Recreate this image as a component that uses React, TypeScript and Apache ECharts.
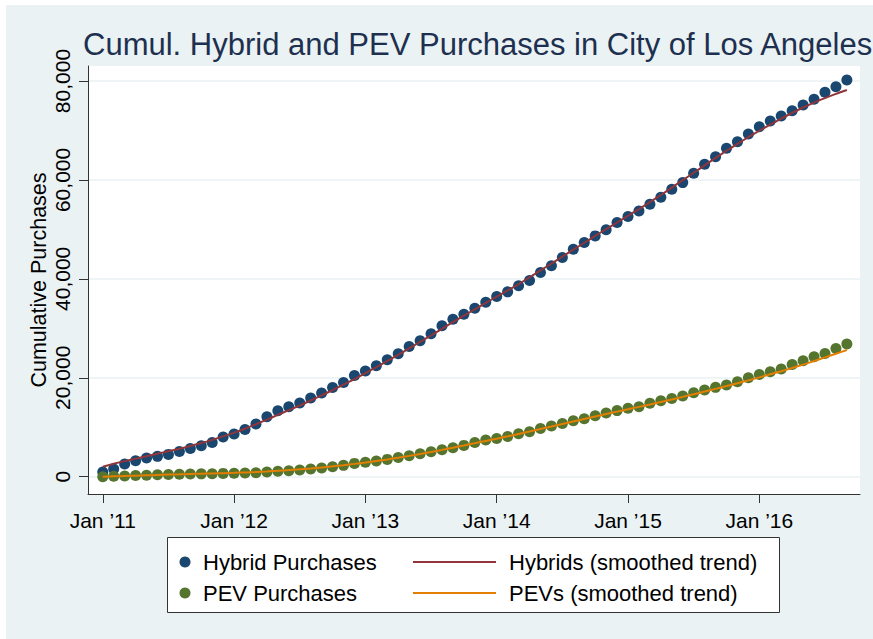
import React, { useEffect, useRef } from "react";
import * as echarts from "echarts";

// Monthly observations, Jan 2011 (index 0) through Sep 2016 (index 68)
const hybridPurchases = [
  950, 1550, 2560, 3230, 3770, 4110, 4510, 5110, 5720, 6260, 6930, 8020,
  8630, 9560, 10650, 12120, 13330, 14140, 14890, 15900, 16910, 18040, 19050, 20470,
  21350, 22420, 23640, 24850, 26330, 27470, 28890, 30500, 31850, 32860, 34070, 35290,
  36430, 37370, 38590, 39660, 41280, 42630, 44310, 45990, 47340, 48690, 49950, 51380,
  52590, 53740, 55090, 56500, 58120, 59460, 61350, 63170, 64710, 66400, 67740, 69290,
  70770, 71920, 72930, 74000, 75150, 76300, 77720, 78850, 80200,
];

const pevPurchases = [
  0, 100, 150, 220, 290, 380, 450, 500, 540, 570, 610, 670,
  700, 750, 810, 950, 1090, 1220, 1350, 1550, 1750, 2020, 2290, 2690,
  2920, 3160, 3500, 3900, 4240, 4640, 5050, 5450, 5860, 6330, 6930, 7400,
  7740, 8140, 8680, 9090, 9760, 10230, 10770, 11310, 11710, 12320, 12860, 13360,
  13820, 14140, 14830, 15360, 15830, 16300, 16970, 17510, 18060, 18520, 19190, 20000,
  20680, 21210, 21760, 22700, 23430, 24240, 24930, 25940, 26810,
];

const hybridTrend = [
  2000, 2600, 3150, 3650, 4150, 4650, 5150, 5650, 6200, 6800, 7450, 8150,
  8900, 9700, 10600, 11550, 12500, 13450, 14400, 15400, 16450, 17500, 18600, 19750,
  20950, 22150, 23400, 24650, 25950, 27250, 28550, 29900, 31250, 32550, 33850, 35150,
  36400, 37650, 38950, 40300, 41700, 43100, 44500, 45900, 47300, 48700, 50050, 51400,
  52750, 54100, 55500, 56950, 58450, 59950, 61450, 62950, 64450, 65900, 67300, 68650,
  69950, 71200, 72400, 73550, 74650, 75650, 76550, 77400, 78200,
];

const pevTrend = [
  0, 70, 140, 210, 280, 350, 420, 480, 540, 600, 660, 720,
  790, 870, 960, 1070, 1190, 1330, 1490, 1670, 1870, 2090, 2330, 2590,
  2870, 3170, 3490, 3840, 4210, 4600, 5000, 5420, 5860, 6310, 6770, 7230,
  7690, 8160, 8640, 9130, 9630, 10130, 10640, 11150, 11660, 12170, 12670, 13160,
  13640, 14120, 14610, 15110, 15620, 16140, 16670, 17210, 17760, 18320, 18890, 19480,
  20080, 20700, 21330, 21980, 22660, 23380, 24120, 24870, 25620,
];

const xTickMonths = [0, 12, 24, 36, 48, 60];
const xTickLabels = ["Jan \u201911", "Jan \u201912", "Jan \u201913", "Jan \u201914", "Jan \u201915", "Jan \u201916"];
const yTicks = [0, 20000, 40000, 60000, 80000];

const seriesNames = ["Hybrid Purchases", "PEV Purchases", "Hybrids (smoothed trend)", "PEVs (smoothed trend)"];

const FONT = "'Liberation Sans', Arial, Helvetica, sans-serif";
const NAVY = "#1A476F";
const GREEN = "#55752F";
const MAROON = "#90353B";
const ORANGE = "#E37E00";
const BG = "#EAF2F3";

const toPairs = (arr: number[]) => arr.map((v, i) => [i, v]);

export default function App() {
  const ref = useRef<HTMLDivElement>(null);

  useEffect(() => {
    if (!ref.current) return;
    const chart = echarts.init(ref.current, undefined, { renderer: "svg" });
    const legendRow1 = 562;
    const legendRow2 = 593;
    chart.setOption({
      animation: false,
      backgroundColor: "transparent",
      title: {
        text: "Cumul. Hybrid and PEV Purchases in City of Los Angeles",
        left: 78,
        top: 24,
        textStyle: { fontFamily: FONT, fontSize: 31, fontWeight: "normal", color: "#1e3050" },
      },
      graphic: [
        { type: "rect", z: -10, shape: { x: 6, y: 5, width: 873, height: 639 }, style: { fill: BG } },
        {
          type: "rect",
          shape: { x: 167.5, y: 537.5, width: 612, height: 75 },
          style: { fill: "#fff", stroke: "#333", lineWidth: 1 },
        },
        { type: "circle", shape: { cx: 185, cy: legendRow1, r: 5.5 }, style: { fill: NAVY } },
        { type: "circle", shape: { cx: 185, cy: legendRow2, r: 5.5 }, style: { fill: GREEN } },
        {
          type: "text",
          x: 203,
          y: legendRow1,
          style: { text: seriesNames[0], fontFamily: FONT, fontSize: 22, fill: "#000", verticalAlign: "middle" },
        },
        {
          type: "text",
          x: 203,
          y: legendRow2,
          style: { text: seriesNames[1], fontFamily: FONT, fontSize: 22, fill: "#000", verticalAlign: "middle" },
        },
        { type: "line", shape: { x1: 413, y1: legendRow1, x2: 496, y2: legendRow1 }, style: { stroke: MAROON, lineWidth: 2 } },
        { type: "line", shape: { x1: 413, y1: legendRow2, x2: 496, y2: legendRow2 }, style: { stroke: ORANGE, lineWidth: 2 } },
        {
          type: "text",
          x: 509,
          y: legendRow1,
          style: { text: seriesNames[2], fontFamily: FONT, fontSize: 22, fill: "#000", verticalAlign: "middle" },
        },
        {
          type: "text",
          x: 509,
          y: legendRow2,
          style: { text: seriesNames[3], fontFamily: FONT, fontSize: 22, fill: "#000", verticalAlign: "middle" },
        },
      ],
      grid: {
        left: 88,
        right: 13,
        top: 66,
        bottom: 145,
        show: true,
        backgroundColor: "#fff",
        borderWidth: 0,
        containLabel: false,
      },
      xAxis: {
        type: "value",
        min: -1.35,
        max: 69.2,
        axisLine: { show: true, onZero: false, lineStyle: { color: "#333", width: 1 } },
        axisTick: { show: true, length: 9, customValues: xTickMonths, lineStyle: { color: "#333" } },
        axisLabel: {
          customValues: xTickMonths,
          margin: 16,
          fontFamily: FONT,
          fontSize: 21,
          color: "#000",
          formatter: (v: number) => xTickLabels[xTickMonths.indexOf(Math.round(v))] ?? "",
        },
        splitLine: { show: false },
      },
      yAxis: {
        type: "value",
        min: -3500,
        max: 83040,
        name: "Cumulative Purchases",
        nameLocation: "middle",
        nameRotate: 90,
        nameGap: 38,
        nameMoveOverlap: false,
        nameTextStyle: { fontFamily: FONT, fontSize: 21.5, color: "#000" },
        axisLine: { show: true, onZero: false, lineStyle: { color: "#333", width: 1 } },
        axisTick: { show: true, length: 9, customValues: yTicks, lineStyle: { color: "#333" } },
        axisLabel: {
          customValues: yTicks,
          rotate: 90,
          margin: 15,
          fontFamily: FONT,
          fontSize: 21,
          color: "#000",
          formatter: (v: number) => v.toLocaleString("en-US"),
        },
        splitLine: { show: true, lineStyle: { color: BG, width: 1.5 } },
      },
      series: [
        {
          name: seriesNames[0],
          type: "scatter",
          data: toPairs(hybridPurchases),
          symbol: "circle",
          symbolSize: 11,
          itemStyle: { color: NAVY, opacity: 1 },
          z: 3,
        },
        {
          name: seriesNames[1],
          type: "scatter",
          data: toPairs(pevPurchases),
          symbol: "circle",
          symbolSize: 11,
          itemStyle: { color: GREEN, opacity: 1 },
          z: 4,
        },
        {
          name: seriesNames[2],
          type: "line",
          data: toPairs(hybridTrend),
          showSymbol: false,
          smooth: 0.3,
          lineStyle: { color: MAROON, width: 2 },
          itemStyle: { color: MAROON },
          z: 5,
        },
        {
          name: seriesNames[3],
          type: "line",
          data: toPairs(pevTrend),
          showSymbol: false,
          smooth: 0.3,
          lineStyle: { color: ORANGE, width: 2 },
          itemStyle: { color: ORANGE },
          z: 6,
        },
      ],
    });
    return () => chart.dispose();
  }, []);

  return (
    <div style={{ position: "absolute", left: 0, top: 0, width: 873, height: 639, background: "#fff", overflow: "hidden" }}>
      <div ref={ref} style={{ width: 873, height: 639 }} />
    </div>
  );
}
